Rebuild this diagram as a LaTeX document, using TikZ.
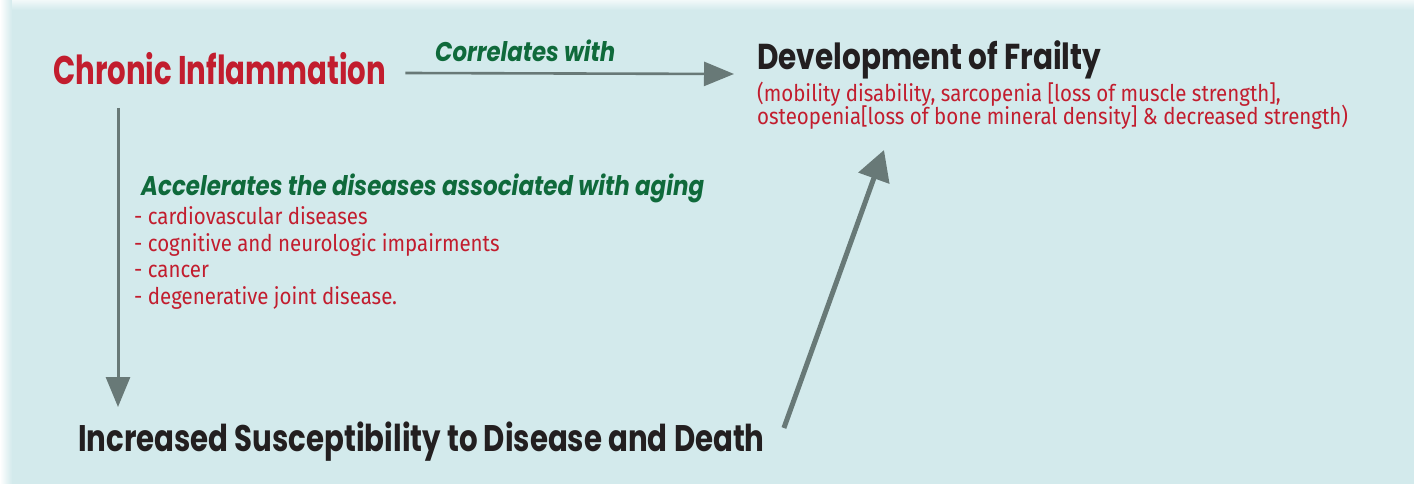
\documentclass[tikz,border=0pt]{standalone}
\usepackage{fontspec}
\usepackage{tikz}
\usetikzlibrary{arrows.meta,calc}

\newfontfamily\headfont{Poppins}
\newfontfamily\notefont{Fira Sans}

\definecolor{paneblue}{HTML}{D3EAEC}
\definecolor{inflred}{HTML}{C21D2E}
\definecolor{linkgreen}{HTML}{0F6A3B}
\definecolor{inkdark}{HTML}{231F20}
\definecolor{arrowgrey}{HTML}{687977}

% narrowed fonts: size, stretch
\newcommand{\headsize}[2]{\headfont\bfseries\addfontfeatures{FakeStretch=#2}\fontsize{#1}{#1}\selectfont}
\newcommand{\notesize}[2]{\notefont\addfontfeatures{FakeStretch=#2}\fontsize{#1}{#1}\selectfont}

\begin{document}
\begin{tikzpicture}[x=1pt,y=-1pt,
    title/.style={anchor=base west,inner sep=0pt,text=inkdark},
    link/.style={anchor=base west,inner sep=0pt,text=linkgreen},
    note/.style={anchor=base west,inner sep=0pt,text=inflred,font=\notesize{23}{0.89}},
    arr/.style={draw=arrowgrey,line width=2.6pt,-{Triangle[length=30pt,width=24pt]}}]

\useasboundingbox (0,0) rectangle (1414,484);
\fill[paneblue] (0,0) rectangle (1414,484);
\shade[left color=white,right color=paneblue] (0,0) rectangle (12,484);
\shade[top color=white!70!paneblue,bottom color=paneblue] (12,0) rectangle (1414,10);

% the three states
\node[title,text=inflred,font=\headsize{40}{0.73}] (chronic) at (53,85) {Chronic Inflammation};
\node[title,font=\headsize{36}{0.82}] (frailty) at (757,70) {Development of Frailty};
\node[title,font=\headsize{37}{0.79}] (suscept) at (78,451) {Increased Susceptibility to Disease and Death};

% explanations
\node[note] (frail1) at (757,101.5) {(mobility disability, sarcopenia [loss of muscle strength],};
\node[note] (frail2) at (757,125) {osteopenia[loss of bone mineral density] \& decreased strength)};
\node[link,font=\headfont\bfseries\itshape\addfontfeatures{FakeStretch=0.845}\fontsize{27}{27}\selectfont] (corr) at (435,62) {Correlates with};
\node[link,font=\headfont\bfseries\itshape\addfontfeatures{FakeStretch=0.85}\fontsize{27}{27}\selectfont] (accel) at (141,195) {Accelerates the diseases associated with aging};
\foreach \t [count=\i] in {cardiovascular diseases,cognitive and neurologic impairments,cancer,degenerative joint disease.}
    \node[note] (ill\i) at (134,{198+26.5*\i}) {- \t};

% arrows
\draw[arr] ([xshift=19pt,yshift=12pt]chronic.base east) -- ([xshift=-23pt,yshift=-4pt]frailty.base west);
\draw[arr,line width=3pt] ([xshift=65pt,yshift=-23pt]chronic.base west) -- ([xshift=40pt,yshift=44pt]suscept.base west);
\draw[arr,line width=5pt,-{Triangle[length=30pt,width=32pt]}] ([xshift=19pt,yshift=23pt]suscept.base east) -- ([xshift=127pt,yshift=-80pt]frailty.base west);

\end{tikzpicture}
\end{document}
